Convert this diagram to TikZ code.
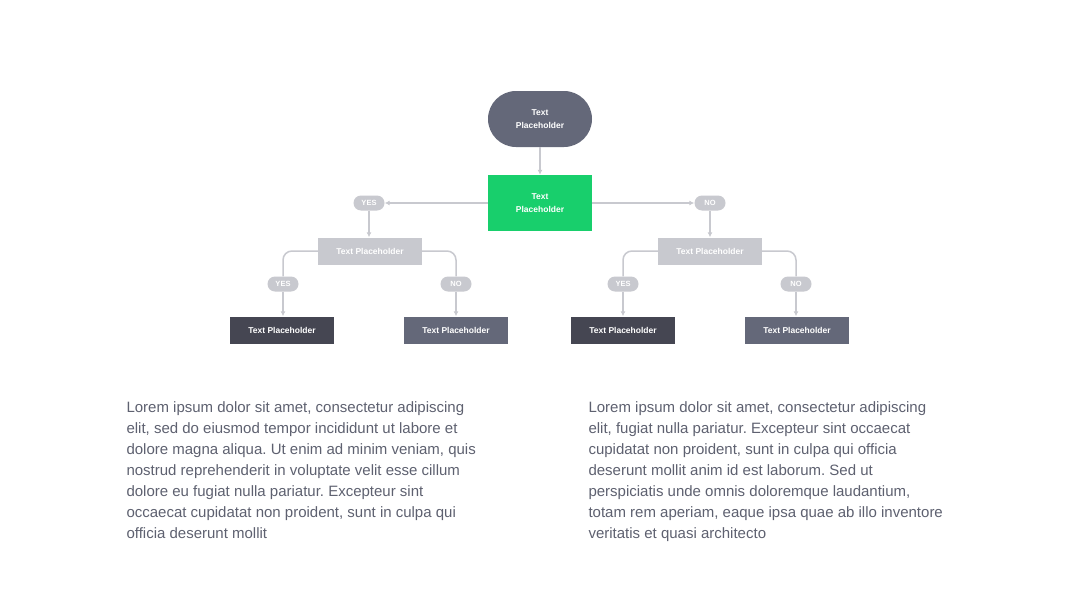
\documentclass[tikz,border=0pt]{standalone}
\usepackage{fontspec}
\setmainfont{Liberation Sans}
\usetikzlibrary{arrows.meta,calc,positioning}
\definecolor{slate}{HTML}{646879}
\definecolor{ink}{HTML}{454652}
\definecolor{mist}{HTML}{C8C9CF}
\definecolor{leafgreen}{HTML}{18CF6C}
\definecolor{bodygray}{HTML}{5E6170}
\tikzset{
  startbox/.style={rectangle,rounded corners=28pt,fill=slate,text=white,minimum width=104pt,minimum height=56pt,font=\fontsize{8.5}{13}\selectfont\bfseries,align=center},
  greenbox/.style={rectangle,fill=leafgreen,text=white,minimum width=104pt,minimum height=56pt,font=\fontsize{8.5}{13}\selectfont\bfseries,align=center},
  askbox/.style={rectangle,fill=mist,text=white,minimum width=104pt,minimum height=27pt,font=\fontsize{8.5}{10}\selectfont\bfseries},
  darkleaf/.style={rectangle,fill=ink,text=white,minimum width=104pt,minimum height=27pt,font=\fontsize{8.5}{10}\selectfont\bfseries},
  greyleaf/.style={rectangle,fill=slate,text=white,minimum width=104pt,minimum height=27pt,font=\fontsize{8.5}{10}\selectfont\bfseries},
  pill/.style={rectangle,rounded corners=7.5pt,fill=mist,text=white,minimum width=31pt,minimum height=15pt,inner sep=1pt,font=\fontsize{7.5}{8}\selectfont\bfseries},
  edge/.style={-{Latex[length=5pt,width=5pt]},draw=mist,line width=1.5pt},
  uedge/.style={draw=mist,line width=1.5pt,rounded corners=9pt},
  para/.style={anchor=north west,align=left,text=bodygray,font=\fontsize{15}{21}\selectfont}
}
\begin{document}
\frenchspacing
\begin{tikzpicture}[x=1pt,y=-1pt]
\useasboundingbox[fill=white] (0,0) rectangle (1080,608);
% top of the tree
\node[startbox] (start) at (540,119) {Text\\Placeholder};
\node[greenbox] (main) at (540,203) {Text\\Placeholder};
\draw[edge] (start) -- (main);
% first answers
\node[pill] (yesA) at (369,203) {YES};
\node[pill] (noA) at (710,203) {NO};
\draw[edge] (main) -- (yesA);
\draw[edge] (main) -- (noA);
% second questions
\node[askbox] (askL) at (370,251) {Text Placeholder};
\node[askbox] (askR) at (710,251) {Text Placeholder};
\draw[edge] (yesA) -- (yesA |- askL.north);
\draw[edge] (noA) -- (askR);
% answers to the second questions
\node[pill] (yesL) at (283,284) {YES};
\node[pill] (noL) at (456,284) {NO};
\node[pill] (yesR) at (623,284) {YES};
\node[pill] (noR) at (796,284) {NO};
\draw[uedge] (askL.west) -| (yesL.north);
\draw[uedge] (askL.east) -| (noL.north);
\draw[uedge] (askR.west) -| (yesR.north);
\draw[uedge] (askR.east) -| (noR.north);
% leaves
\node[darkleaf] (leafLL) at (282,330) {Text Placeholder};
\node[greyleaf] (leafLR) at (456,330) {Text Placeholder};
\node[darkleaf] (leafRL) at (623,330) {Text Placeholder};
\node[greyleaf] (leafRR) at (797,330) {Text Placeholder};
\draw[edge] (yesL) -- (yesL |- leafLL.north);
\draw[edge] (noL) -- (noL |- leafLR.north);
\draw[edge] (yesR) -- (yesR |- leafRL.north);
\draw[edge] (noR) -- (noR |- leafRR.north);
% body text
\node[para] (textL) at (123,398) {Lorem ipsum dolor sit amet, consectetur adipiscing\\
elit, sed do eiusmod tempor incididunt ut labore et\\
dolore magna aliqua. Ut enim ad minim veniam, quis\\
nostrud reprehenderit in voluptate velit esse cillum\\
dolore eu fugiat nulla pariatur. Excepteur sint\\
occaecat cupidatat non proident, sunt in culpa qui\\
officia deserunt mollit};
\node[para] (textR) at (585,398) {Lorem ipsum dolor sit amet, consectetur adipiscing\\
elit, fugiat nulla pariatur. Excepteur sint occaecat\\
cupidatat non proident, sunt in culpa qui officia\\
deserunt mollit anim id est laborum. Sed ut\\
perspiciatis unde omnis doloremque laudantium,\\
totam rem aperiam, eaque ipsa quae ab illo inventore\\
veritatis et quasi architecto};
\end{tikzpicture}
\end{document}
